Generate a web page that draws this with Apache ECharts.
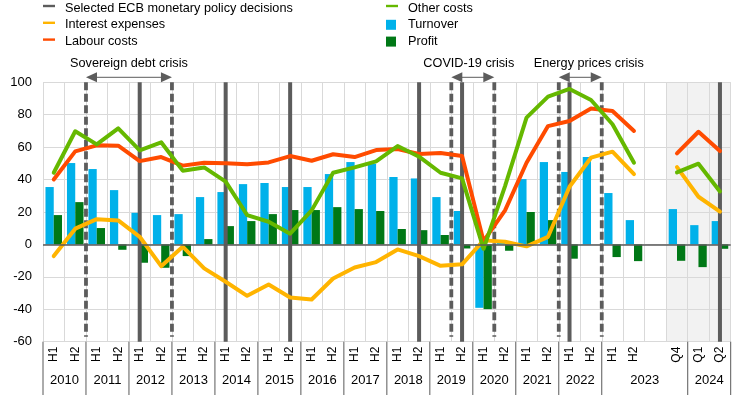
<!DOCTYPE html>
<html>
<head>
<meta charset="utf-8">
<script src="https://cdn.jsdelivr.net/npm/echarts@6/dist/echarts.min.js"></script>
<style>html,body{margin:0;padding:0;background:#fff}#c{width:743px;height:395px}</style>
</head>
<body>
<div id="c"></div>
<script>
// ---------- DATA ----------
const periodYears = ['2010','2010','2011','2011','2012','2012','2013','2013','2014','2014','2015','2015','2016','2016','2017','2017','2018','2018','2019','2019','2020','2020','2021','2021','2022','2022','2023','2023','2023','2023','2024','2024'];
const periodLabels = ['H1','H2','H1','H2','H1','H2','H1','H2','H1','H2','H1','H2','H1','H2','H1','H2','H1','H2','H1','H2','H1','H2','H1','H2','H1','H2','H1','H2','','Q4','Q1','Q2'];

const turnover = [35.4,50.2,46.5,33.5,19.5,18.1,18.7,29.2,32.3,37.2,37.9,35.4,35.4,43.4,50.8,49.8,41.6,40.7,29.2,20.6,-39.1,1.5,40.3,50.8,44.7,53.9,31.7,15.0,null,21.8,11.9,14.4];
const profit   = [18.1,26.1,10.1,-3.3,-11.3,-14.4,-7.2,3.3,11.3,14.4,18.7,21.2,21.2,23.0,21.8,20.6,9.5,8.8,5.8,-2.5,-39.9,-3.9,20.0,15.0,-8.8,0,-7.8,-10.3,null,-10.1,-14.0,-2.7];
const interestExpenses = [-7.2,9.7,15.6,14.8,4.7,-13.4,-1.4,-14.8,-23.0,-31.7,-24.7,-32.7,-34.0,-21.0,-14.2,-10.9,-3.1,-7.2,-13.2,-12.3,2.5,1.6,-1.2,4.7,35.6,53.5,57.2,43.4,null,47.7,29.4,20.2];
const labourCosts = [40.1,57.4,61.1,60.9,51.4,53.9,48.6,50.4,50.0,49.4,50.6,54.5,51.6,55.6,53.9,58.2,58.8,55.8,56.4,54.5,2.0,21.0,50.4,73.0,76.1,83.9,82.3,70.0,null,56.2,69.5,57.6];
const otherCosts  = [44.2,69.8,61.7,71.6,58.0,63.0,45.5,47.5,38.7,18.1,14.0,6.6,21.0,44.2,47.5,51.2,60.7,54.1,44.2,40.7,-2.7,36.0,78.2,91.2,95.9,89.1,74.1,50.4,null,44.4,49.8,32.7];

const yTicks = {min: -60, max: 100, interval: 20};

// ECB decisions (drawn at the middle of the period)
const decisions = [['2012','H1'],['2014','H1'],['2015','H2'],['2018','H2'],['2019','H2'],['2022','H1'],['2024','Q2']];
// crises: boundaries at the start of the given periods
const crises = [
  {name: 'Sovereign debt crisis', from: ['2011','H1'], to: ['2013','H1']},
  {name: 'COVID-19 crisis',       from: ['2019','H2'], to: ['2020','H2']},
  {name: 'Energy prices crisis',  from: ['2022','H1'], to: ['2023','H1']}
];
const shadedPeriods = [['2023','Q4'], ['2024','Q2']];

// ---------- STYLE ----------
const FONT = '"Liberation Sans", Arial, sans-serif';
const C = {turnover:'#00B1EA', profit:'#007816', interest:'#FFB400', labour:'#FF4B00', other:'#65B800', gray:'#5C5C5C', grid:'#D9D9D9'};
const crisisLabelShift = [0, -4, 8.5];
const LINE_ICON = 'path://M0,0M17,10M0,1.8H12V4.2H0Z';
const BOX_ICON  = 'path://M0,0M17,10M0,0H10V10H0Z';

const keys = periodYears.map((y, i) => y + ' ' + periodLabels[i] + (periodLabels[i] === '' ? 'gap' : ''));
const idxOf = p => keys.indexOf(p[0] + ' ' + p[1]);

const yearGroups = [];
periodYears.forEach((y, i) => {
  const last = yearGroups[yearGroups.length - 1];
  if (last && last.year === y) last.end = i; else yearGroups.push({year: y, start: i, end: i});
});

const chart = echarts.init(document.getElementById('c'), null, {renderer: 'canvas'});

function bounds(api, i) {
  const bw = api.size([1, 0])[0];
  const c = api.coord([i, 0])[0];
  return [c - bw / 2, c + bw / 2];
}

const option = {
  animation: false,
  grid: {left: 43, right: 12.3, top: 82.3, bottom: 53.3, containLabel: false},
  legend: [
    {
      left: 43, top: 1, orient: 'vertical', padding: 0, itemGap: 2.8, itemWidth: 17, itemHeight: 10,
      selectedMode: false, itemStyle: {borderWidth: 0},
      textStyle: {fontSize: 12.7, lineHeight: 14, color: '#000', fontFamily: FONT},
      data: [
        {name: 'Selected ECB monetary policy decisions', icon: LINE_ICON, itemStyle: {color: C.gray}},
        {name: 'Interest expenses', icon: LINE_ICON, itemStyle: {color: C.interest}},
        {name: 'Labour costs', icon: LINE_ICON, itemStyle: {color: C.labour}}
      ]
    },
    {
      left: 386, top: 1, orient: 'vertical', padding: 0, itemGap: 2.8, itemWidth: 17, itemHeight: 10,
      selectedMode: false, itemStyle: {borderWidth: 0},
      textStyle: {fontSize: 12.7, lineHeight: 14, color: '#000', fontFamily: FONT},
      data: [
        {name: 'Other costs', icon: LINE_ICON, itemStyle: {color: C.other}},
        {name: 'Turnover', icon: BOX_ICON, itemStyle: {color: C.turnover}},
        {name: 'Profit', icon: BOX_ICON, itemStyle: {color: C.profit}}
      ]
    }
  ],
  xAxis: {
    type: 'category', data: keys, boundaryGap: true,
    axisLine: {show: false}, axisTick: {show: false},
    splitLine: {show: true, interval: 0, lineStyle: {color: C.grid, width: 1}},
    axisLabel: {interval: 0, rotate: 90, margin: 5, fontSize: 12, color: '#000', fontFamily: FONT,
      formatter: (v, i) => periodLabels[i]}
  },
  yAxis: {
    type: 'value', min: yTicks.min, max: yTicks.max, interval: yTicks.interval,
    axisLine: {show: false}, axisTick: {show: false},
    splitLine: {lineStyle: {color: C.grid, width: 1}},
    axisLabel: {margin: 11, fontSize: 13, color: '#000', fontFamily: FONT}
  },
  series: [
    {
      name: 'shade', type: 'custom', z: -1, silent: true,
      data: [[idxOf(shadedPeriods[0]), 0]],
      renderItem: (params, api) => {
        const x0 = bounds(api, idxOf(shadedPeriods[0]))[0];
        const x1 = bounds(api, idxOf(shadedPeriods[1]))[1];
        const yT = api.coord([0, yTicks.max])[1], yB = api.coord([0, yTicks.min])[1];
        return {type: 'rect', shape: {x: x0, y: yT, width: x1 - x0, height: yB - yT}, style: {fill: '#F2F2F2'}};
      }
    },
    {
      name: 'Turnover', type: 'bar', data: turnover, itemStyle: {color: C.turnover},
      barGap: '0%', barCategoryGap: '23%', z: 2,
      markLine: {silent: true, symbol: 'none', label: {show: false},
        lineStyle: {color: '#595959', width: 1.5, type: 'solid'}, data: [{yAxis: 0}]}
    },
    {name: 'Profit', type: 'bar', data: profit, itemStyle: {color: C.profit}, barGap: '0%', barCategoryGap: '23%', z: 2},
    {
      name: 'Selected ECB monetary policy decisions', type: 'custom', z: 3, silent: true,
      itemStyle: {color: C.gray},
      data: decisions.map(d => [idxOf(d), 0]),
      renderItem: (params, api) => {
        const i = idxOf(decisions[params.dataIndex]);
        const t = api.coord([i, yTicks.max]), b = api.coord([i, yTicks.min]);
        return {type: 'line', shape: {x1: t[0], y1: t[1], x2: b[0], y2: b[1]}, style: {stroke: C.gray, lineWidth: 4}};
      }
    },
    {
      name: 'crises', type: 'custom', z: 3, silent: true,
      data: crises.map(c => [idxOf(c.from), 0]),
      renderItem: (params, api) => {
        const c = crises[params.dataIndex];
        const x1 = bounds(api, idxOf(c.from))[0];
        const x2 = bounds(api, idxOf(c.to))[0];
        const yT = api.coord([0, yTicks.max])[1], yB = api.coord([0, yTicks.min])[1];
        const ay = yT - 5;
        const dash = {stroke: C.gray, lineWidth: 3.8, lineDash: [8, 3.5]};
        return {type: 'group', children: [
          {type: 'line', shape: {x1: x1, y1: yT, x2: x1, y2: yB - 5}, style: dash},
          {type: 'line', shape: {x1: x2, y1: yT, x2: x2, y2: yB - 5}, style: dash},
          {type: 'line', shape: {x1: x1 + 10, y1: ay, x2: x2 - 10, y2: ay}, style: {stroke: C.gray, lineWidth: 1}},
          {type: 'polygon', shape: {points: [[x1, ay], [x1 + 11, ay - 5], [x1 + 11, ay + 5]]}, style: {fill: C.gray}},
          {type: 'polygon', shape: {points: [[x2, ay], [x2 - 11, ay - 5], [x2 - 11, ay + 5]]}, style: {fill: C.gray}},
          {type: 'text', style: {text: c.name, x: (x1 + x2) / 2 + crisisLabelShift[params.dataIndex], y: ay - 13.5,
            align: 'center', verticalAlign: 'middle', fontSize: 12.7, fontFamily: FONT, fill: '#000'}}
        ]};
      }
    },
    {name: 'Interest expenses', type: 'line', data: interestExpenses, z: 4, symbol: 'none', showSymbol: false,
      lineStyle: {color: C.interest, width: 4, cap: 'round', join: 'round'}, itemStyle: {color: C.interest}},
    {name: 'Labour costs', type: 'line', data: labourCosts, z: 4, symbol: 'none', showSymbol: false,
      lineStyle: {color: C.labour, width: 4, cap: 'round', join: 'round'}, itemStyle: {color: C.labour}},
    {name: 'Other costs', type: 'line', data: otherCosts, z: 4, symbol: 'none', showSymbol: false,
      lineStyle: {color: C.other, width: 4, cap: 'round', join: 'round'}, itemStyle: {color: C.other}},
    {
      name: 'years', type: 'custom', z: 3, silent: true, clip: false,
      data: yearGroups.map(g => [g.start, 0]),
      renderItem: (params, api) => {
        const g = yearGroups[params.dataIndex];
        const xL = bounds(api, g.start)[0], xR = bounds(api, g.end)[1];
        const cs = params.coordSys;
        const yB = cs.y + cs.height;
        const children = [
          {type: 'line', shape: {x1: xL, y1: yB, x2: xL, y2: yB + 60}, style: {stroke: '#595959', lineWidth: 1}},
          {type: 'text', style: {text: g.year, x: (xL + xR) / 2, y: yB + 39, align: 'center', verticalAlign: 'middle',
            fontSize: 13, fontFamily: FONT, fill: '#000'}}
        ];
        if (params.dataIndex === yearGroups.length - 1) {
          children.push({type: 'line', shape: {x1: xR, y1: yB, x2: xR, y2: yB + 60}, style: {stroke: '#595959', lineWidth: 1}});
        }
        return {type: 'group', children: children};
      }
    }
  ]
};
chart.setOption(option);
</script>
</body>
</html>
